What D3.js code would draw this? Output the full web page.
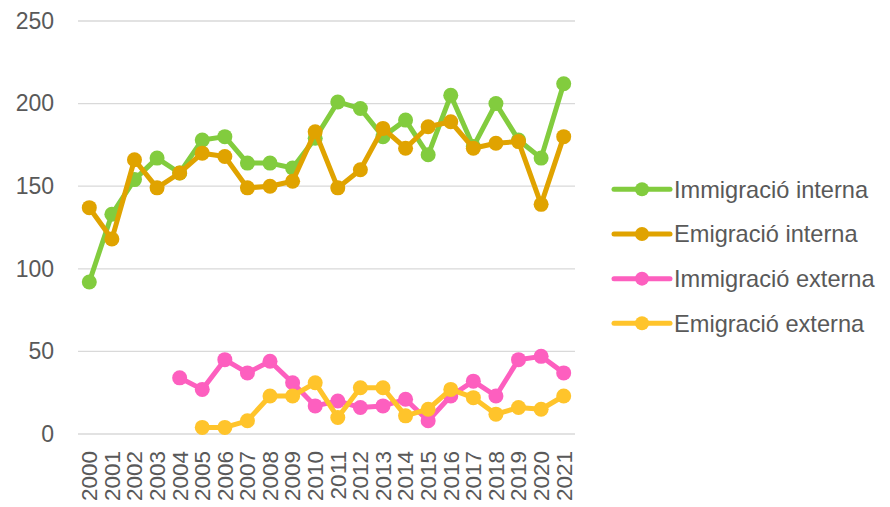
<!DOCTYPE html>
<html>
<head>
<meta charset="utf-8">
<script src="https://cdn.jsdelivr.net/npm/d3@7/dist/d3.min.js"></script>
<style>
  html, body { margin: 0; padding: 0; background: #ffffff; }
  svg { display: block; }
  text { font-family: "Liberation Sans", Arial, sans-serif; fill: #595959; }
</style>
</head>
<body>
<svg id="chart" width="890" height="507"></svg>
<script>
const years = ["2000","2001","2002","2003","2004","2005","2006","2007","2008","2009","2010",
               "2011","2012","2013","2014","2015","2016","2017","2018","2019","2020","2021"];
const immigracioInterna = [92,133,154,167,158,178,180,164,164,161,179,201,197,180,190,169,205,174,200,178,167,212];
const emigracioInterna  = [137,118,166,149,158,170,168,149,150,153,183,149,160,185,173,186,189,173,176,177,139,180];
const immigracioExterna = [null,null,null,null,34,27,45,37,44,31,17,20,16,17,21,8,23,32,23,45,47,37];
const emigracioExterna  = [null,null,null,null,null,4,4,8,23,23,31,10,28,28,11,15,27,22,12,16,15,23];
const yTicks = [0,50,100,150,200,250];
const seriesNames = ["Immigració interna","Emigració interna","Immigració externa","Emigració externa"];
const seriesColors = ["#82cc3e","#e0a300","#fd5fbf","#ffc42b"];
const seriesValues = [immigracioInterna, emigracioInterna, immigracioExterna, emigracioExterna];

(function () {
const svg = d3.select("#chart");
const mLeft = 78, mRight = 575, mTop = 21, mBottom = 434;

const x = d3.scaleBand().domain(years).range([mLeft, mRight]);
const y = d3.scaleLinear().domain([0, 250]).range([mBottom, mTop]);

// gridlines
svg.append("g").selectAll("line").data(yTicks).join("line")
  .attr("x1", mLeft).attr("x2", mRight)
  .attr("y1", d => y(d)).attr("y2", d => y(d))
  .attr("stroke", "#d9d9d9").attr("stroke-width", 1.3);

// y axis labels
const yAxis = d3.axisLeft(y).tickValues(yTicks).tickSize(0).tickPadding(0);
const gy = svg.append("g").attr("transform", `translate(${mLeft - 24},0)`).call(yAxis);
gy.select(".domain").remove();
gy.selectAll("text").attr("font-size", "23px").attr("fill", "#595959")
  .style("font-family", '"Liberation Sans", Arial, sans-serif');

// x axis labels
const xAxis = d3.axisBottom(x).tickSize(0).tickPadding(0);
const gx = svg.append("g").attr("transform", `translate(0,${mBottom})`).call(xAxis);
gx.select(".domain").remove();
gx.selectAll("text")
  .attr("font-size", "22.5px").attr("fill", "#595959")
  .style("font-family", '"Liberation Sans", Arial, sans-serif')
  .attr("text-anchor", "end")
  .attr("transform", "rotate(-90)")
  .attr("x", -17).attr("y", 0).attr("dy", "0.35em");

// series
const cx = i => x(years[i]) + x.bandwidth() / 2;
seriesValues.forEach((vals, s) => {
  const pts = vals.map((v, i) => ({i, v})).filter(d => d.v !== null);
  const line = d3.line().x(d => cx(d.i)).y(d => y(d.v));
  const g = svg.append("g");
  g.append("path").datum(pts).attr("d", line)
    .attr("fill", "none").attr("stroke", seriesColors[s])
    .attr("stroke-width", 5).attr("stroke-linejoin", "round").attr("stroke-linecap", "round");
  g.selectAll("circle").data(pts).join("circle")
    .attr("cx", d => cx(d.i)).attr("cy", d => y(d.v)).attr("r", 7.5)
    .attr("fill", seriesColors[s]);
});

// legend
const legend = svg.append("g");
const legendY = d3.scaleLinear().domain([0, 3]).range([189.3, 323.3]);
seriesNames.forEach((name, s) => {
  const ly = legendY(s);
  legend.append("line").attr("x1", 614).attr("x2", 670).attr("y1", ly).attr("y2", ly)
    .attr("stroke", seriesColors[s]).attr("stroke-width", 5).attr("stroke-linecap", "round");
  legend.append("circle").attr("cx", 642).attr("cy", ly).attr("r", 7).attr("fill", seriesColors[s]);
  legend.append("text").attr("x", 674).attr("y", ly).attr("dy", "0.35em")
    .attr("font-size", "23.6px").text(name);
});
})();
</script>
</body>
</html>
